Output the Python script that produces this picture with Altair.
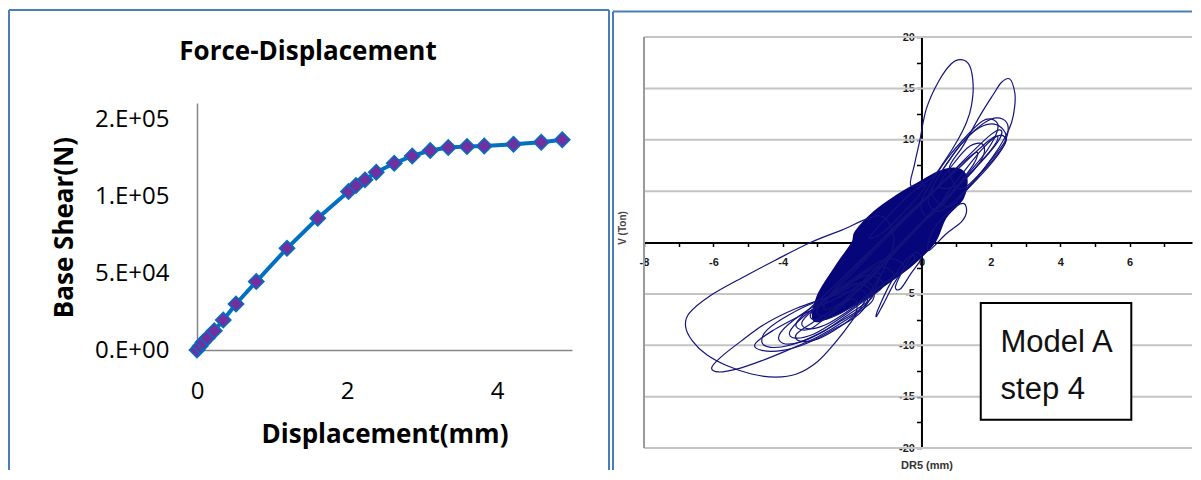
import altair as alt
import pandas as pd

# ---------------- left panel: pushover curve ----------------
disp_mm = [0.0, 0.04, 0.08, 0.14, 0.23, 0.35, 0.52, 0.79, 1.20, 1.61, 2.02, 2.12,
           2.24, 2.39, 2.63, 2.87, 3.11, 3.35, 3.60, 3.83, 4.22, 4.59, 4.87]
base_shear_n = [0, 2500, 5000, 8000, 12500, 19500, 30000, 44600, 66300, 85900, 103300,
                107200, 110900, 115900, 121700, 126500, 130000, 132000, 132600, 133000,
                134100, 135400, 137000]
y_tick_values = [0, 50000, 100000, 150000]
y_tick_labels = ["0.E+00", "5.E+04", "1.E+05", "2.E+05"]
x_tick_values = [0, 2, 4]

# ---------------- right panel: hysteresis loops (mm, Ton) ----------------
core_region = [(-3.1, -7.6), (-3.0, -5.2), (-2.45, -2.2), (-2.0, 0.0), (-1.9, 1.07), (-1.36, 3.0),
               (-0.7, 4.6), (-0.2, 5.6), (0.5, 6.9), (1.03, 7.2), (1.3, 6.3), (1.2, 4.3), (0.7, 2.4),
               (0.38, 0.0), (-0.27, -2.2), (-1.03, -4.1), (-1.58, -5.4), (-2.45, -7.0)]
loop_a = [(-1.2, 2.6), (-2.3, 1.2), (-3.2, 0.0), (-4.2, -1.7), (-5.1, -3.3), (-6.1, -5.2), (-6.7, -6.9),
          (-6.8, -8.2), (-6.6, -9.6), (-6.2, -10.9), (-5.6, -12.0), (-4.9, -12.8), (-4.2, -13.1),
          (-3.6, -12.8), (-3.0, -11.6), (-2.5, -9.8), (-2.0, -7.6), (-1.5, -5.0), (-1.0, -2.0), (-0.8, 0.5)]
loop_b = [(-1.6, -3.8), (-2.6, -5.2), (-3.6, -6.4), (-4.5, -7.9), (-5.2, -9.6), (-5.8, -11.2), (-6.05, -12.2),
          (-5.85, -12.6), (-5.3, -12.3), (-4.6, -11.5), (-3.8, -10.4), (-3.0, -9.2), (-2.2, -7.6), (-1.4, -5.6)]
loop_c = [(-1.8, -4.6), (-2.9, -5.6), (-3.8, -7.0), (-4.45, -8.5), (-4.6, -9.7), (-4.35, -10.2), (-3.8, -10.0),
          (-3.1, -9.1), (-2.4, -7.8), (-1.6, -6.0)]
loop_d = [(-1.9, -4.0), (-2.9, -5.8), (-3.7, -7.6), (-4.1, -9.0), (-4.0, -9.8), (-3.5, -9.7), (-2.8, -8.6),
          (-2.1, -7.0), (-1.4, -5.2)]
loop_e = [(-1.6, -3.2), (-2.6, -5.2), (-3.4, -7.2), (-3.8, -8.7), (-3.65, -9.3), (-3.1, -8.9), (-2.4, -7.5),
          (-1.7, -5.8), (-1.1, -4.2)]
loop_f = [(-1.3, -2.4), (-2.3, -4.5), (-3.1, -6.5), (-3.45, -7.8), (-3.25, -8.4), (-2.7, -7.9), (-2.0, -6.4),
          (-1.3, -4.6), (-0.8, -3.2)]
loop_g = [(-1.0, -1.6), (-2.0, -3.6), (-2.8, -5.6), (-3.2, -7.0), (-3.0, -7.6), (-2.4, -7.0), (-1.7, -5.5),
          (-1.0, -3.8), (-0.5, -2.4)]
loop_h = [(-0.3, 5.5), (-0.2, 7.6), (-0.05, 9.9), (0.14, 13.0), (0.48, 15.6), (0.86, 17.4), (1.15, 17.8),
          (1.39, 17.2), (1.49, 15.3), (1.44, 13.3), (1.3, 11.7), (1.05, 10.0), (0.7, 8.1), (0.3, 6.3)]
loop_i = [(0.8, 7.2), (1.2, 9.4), (1.68, 12.3), (2.07, 14.4), (2.31, 15.6), (2.55, 15.9), (2.69, 14.6),
          (2.69, 13.3), (2.6, 11.7), (2.42, 10.3), (2.05, 8.3), (1.6, 6.4), (1.1, 5.2)]
loop_j = [(0.3, 5.0), (0.9, 8.5), (1.5, 10.8), (2.0, 12.0), (2.35, 12.0), (2.5, 11.2), (2.4, 9.8),
          (2.0, 8.0), (1.4, 5.5), (0.8, 3.5)]
loop_k = [(0.0, 4.0), (0.6, 7.5), (1.2, 10.0), (1.75, 11.8), (2.1, 11.9), (2.2, 11.0), (1.9, 9.0),
          (1.3, 6.5), (0.7, 4.0), (0.2, 2.5)]
loop_l = [(0.2, 4.5), (0.8, 8.0), (1.4, 10.5), (1.9, 11.5), (2.3, 11.2), (2.45, 10.0), (2.2, 8.5),
          (1.7, 6.5), (1.1, 4.5), (0.5, 3.0)]
loop_m = [(0.5, 5.5), (1.0, 8.0), (1.4, 9.4), (1.75, 9.6), (1.8, 8.6), (1.5, 7.0), (1.0, 5.5)]
loop_n = [(0.2, -0.8), (0.7, 0.8), (1.15, 2.0), (1.3, 3.0), (1.2, 3.8), (0.8, 3.0), (0.3, 1.0)]
loop_o = [(-0.4, -1.5), (-0.9, -4.0), (-1.25, -6.5), (-1.3, -7.2), (-1.1, -6.0), (-0.7, -3.5), (-0.2, -1.6)]
loop_p = [(-0.2, -1.0), (-0.5, -2.5), (-0.75, -4.3), (-0.6, -4.5), (-0.3, -3.0), (0.0, -1.5)]
loop_q = [(-2.5, -4.5), (-1.5, -1.0), (-0.5, 2.5), (0.5, 5.5), (1.2, 7.8), (1.6, 8.8), (1.5, 7.6),
          (0.9, 5.0), (0.0, 1.8), (-1.0, -1.8), (-2.0, -5.2), (-2.8, -6.5)]
loop_r = [(-3.0, -6.5), (-2.0, -3.0), (-1.0, 0.5), (0.0, 3.8), (1.0, 7.0), (1.9, 9.8), (2.2, 10.3),
          (2.0, 9.0), (1.2, 6.0), (0.2, 2.5), (-0.8, -1.0), (-1.8, -4.5), (-2.6, -7.0)]
loop_s = [(-3.6, -7.8), (-2.6, -4.5), (-1.6, -1.2), (-0.6, 2.0), (0.4, 5.2), (1.4, 8.6), (2.0, 10.5),
          (2.3, 10.9), (2.2, 9.8), (1.6, 7.4), (0.6, 4.0), (-0.4, 0.6), (-1.4, -2.8), (-2.4, -6.2), (-3.2, -8.4)]
loop_t = [(-1.2, -3.0), (-2.2, -5.0), (-3.3, -6.8), (-4.3, -8.6), (-4.8, -9.9), (-4.6, -10.5), (-4.0, -10.5),
          (-3.3, -9.8), (-2.5, -8.4), (-1.7, -6.6)]
loop_u = [(-2.0, -5.5), (-3.0, -7.5), (-3.6, -8.9), (-3.5, -9.6), (-3.0, -9.4), (-2.4, -8.3), (-1.9, -6.9)]
loop_v = [(0.6, 4.0), (1.2, 6.8), (1.7, 8.9), (2.1, 10.2), (2.35, 10.4), (2.4, 9.6), (2.0, 7.8),
          (1.4, 5.6), (0.9, 3.6)]
loop_w = [(-1.5, 0.5), (-0.9, 2.8), (-0.3, 4.8), (0.1, 5.6), (0.0, 4.9), (-0.5, 3.0), (-1.1, 1.0)]
loops = {"a": loop_a, "b": loop_b, "c": loop_c, "d": loop_d, "e": loop_e, "f": loop_f, "g": loop_g,
         "h": loop_h, "i": loop_i, "j": loop_j, "k": loop_k, "l": loop_l, "m": loop_m, "n": loop_n,
         "o": loop_o, "p": loop_p, "q": loop_q, "r": loop_r, "s": loop_s, "t": loop_t, "u": loop_u,
         "v": loop_v, "w": loop_w}
grid_values = [-20, -15, -10, -5, 5, 10, 15, 20]
box_x = [1.71, 6.05]
box_y = [-5.9, -17.25]
box_lines = ["Model A", "step 4"]
box_text_x = [2.28, 2.28]
box_text_y = [-10.7, -15.2]

FRAME = "#4A7EBB"
one = pd.DataFrame({"k": [0]})

# ---------------- left chart ----------------
# plot top shared with the right panel (page y=37); the y axis itself spans 66..313 px
LW, LH = 375, 313
xs_l = alt.Scale(domain=[0, 5], nice=False, zero=False)
ys_l = alt.Scale(domain=[0, 161000], nice=False, range=[LH, 66])

label_expr = "''"
for v, lab in reversed(list(zip(y_tick_values, y_tick_labels))):
    label_expr = f"datum.value == {v} ? '{lab}' : ({label_expr})"

pdf = pd.DataFrame({"d": disp_mm, "v": base_shear_n, "i": list(range(len(disp_mm)))})
base = alt.Chart(pdf).encode(
    x=alt.X("d:Q", scale=xs_l, axis=alt.Axis(
        values=x_tick_values, title="Displacement(mm)", grid=False, ticks=False,
        domainColor="#868686", domainWidth=1.5, labelFont="Open Sans", labelFontSize=24,
        labelColor="black", labelPadding=29, labelFlush=False,
        titleFont="Open Sans", titleFontSize=26, titleFontWeight="bold", titleColor="black",
        titleX=LW / 2, titleY=92, titleAlign="center", titleBaseline="alphabetic", titleAngle=0)),
    y=alt.Y("v:Q", scale=ys_l, axis=alt.Axis(
        values=y_tick_values, labelExpr=label_expr, title="Base Shear(N)", grid=False, ticks=False,
        domainColor="#868686", domainWidth=1.5, labelFont="Open Sans", labelFontSize=24,
        labelColor="black", labelPadding=28, labelFlush=False,
        titleFont="Open Sans", titleFontSize=26, titleFontWeight="bold", titleColor="black",
        titleX=-125, titleY=190, titleAngle=270, titleAlign="center", titleBaseline="alphabetic")),
    order="i:Q",
)
curve = base.mark_line(color="#0070C0", strokeWidth=4)
markers = base.mark_point(shape="diamond", size=235, filled=True, fill="#7030A0",
                          stroke="#0070C0", strokeWidth=1.5, opacity=1)

fl_left = alt.Chart(one).mark_rule(color=FRAME, strokeWidth=2).encode(
    x=alt.value(-188), y=alt.value(-27), y2=alt.value(433))
fl_top = alt.Chart(one).mark_rule(color=FRAME, strokeWidth=2).encode(
    x=alt.value(-188), x2=alt.value(412), y=alt.value(-27))
fl_right = alt.Chart(one).mark_rule(color=FRAME, strokeWidth=2).encode(
    x=alt.value(412), y=alt.value(-27), y2=alt.value(433))
title_l = alt.Chart(pd.DataFrame({"t": ["Force-Displacement"]})).mark_text(
    font="Open Sans", fontSize=26, fontWeight="bold", color="black",
    align="center", baseline="alphabetic").encode(x=alt.value(111), y=alt.value(23), text="t:N")

left = alt.layer(fl_left, fl_top, fl_right, title_l, curve, markers).properties(width=LW, height=LH)

# ---------------- right chart ----------------
RW, RH = 548, 411
xs_r = alt.Scale(domain=[-8, 7.8], nice=False, zero=False)
ys_r = alt.Scale(domain=[-20, 20], nice=False, zero=False)
x_off = -(8 / 15.8) * RW

rows = []
for name, pts in loops.items():
    for j, (xv, yv) in enumerate(pts):
        rows.append({"loop": name, "i": j, "x": xv, "y": yv})
ldf = pd.DataFrame(rows)
cdf = pd.DataFrame({"x": [p[0] for p in core_region], "y": [p[1] for p in core_region],
                    "i": list(range(len(core_region)))})

x_axis_r = alt.Axis(values=list(range(-8, 8)),
                    labelExpr="datum.value % 2 == 0 ? '' + datum.value : ''",
                    offset=-RH / 2, tickSize=4, tickColor="black", tickWidth=1.5,
                    domainColor="black", domainWidth=2, labelFont="Liberation Sans",
                    labelFontSize=11, labelFontWeight="bold", labelColor="#1a1a1a",
                    labelPadding=10, grid=False,
                    title=None, labelFlush=False, labelOverlap=False)
y_axis_r = alt.Axis(values=[-20 + 2.5 * k for k in range(17)],
                    labelExpr="datum.value % 5 == 0 ? '' + datum.value : ''",
                    offset=x_off, tickSize=5, tickColor="black", tickWidth=1.5,
                    domainColor="black", domainWidth=2, labelFont="Liberation Sans",
                    labelFontSize=11, labelFontWeight="bold", labelColor="#1a1a1a",
                    labelPadding=2, grid=False,
                    title=None, labelFlush=False, labelOverlap=False)

X_R = alt.X("x:Q", scale=xs_r, axis=x_axis_r)
Y_R = alt.Y("y:Q", scale=ys_r, axis=y_axis_r)

grid_r = alt.Chart(pd.DataFrame({"y": grid_values})).mark_rule(color="#c4c4c4", strokeWidth=2).encode(y=Y_R)
frame_plot = alt.Chart(pd.DataFrame({"x": [-8]})).mark_rule(color="#9a9a9a", strokeWidth=2).encode(x=X_R)
core = alt.Chart(cdf).mark_line(interpolate="cardinal-closed", fill="#06067a", stroke="#06067a",
                                strokeWidth=1.5).encode(x=X_R, y=Y_R, order="i:Q")
loop_lines = alt.Chart(ldf).mark_line(interpolate="cardinal-closed", color="#14147e",
                                      strokeWidth=1.2).encode(x=X_R, y=Y_R, detail="loop:N", order="i:Q")
box = alt.Chart(pd.DataFrame({"x": [box_x[0]], "x2": [box_x[1]], "y": [box_y[0]], "y2": [box_y[1]]})).mark_rect(
    fill="white", stroke="black", strokeWidth=2).encode(x=X_R, x2="x2:Q", y=Y_R, y2="y2:Q")
box_text = alt.Chart(pd.DataFrame({"t": box_lines, "x": box_text_x, "y": box_text_y})).mark_text(
    font="Liberation Sans", fontSize=31, color="#111", align="left", baseline="alphabetic").encode(
    x=X_R, y=Y_R, text="t:N")

fr_left = alt.Chart(one).mark_rule(color=FRAME, strokeWidth=2).encode(
    x=alt.value(-31), y=alt.value(-25.5), y2=alt.value(433))
fr_top = alt.Chart(one).mark_rule(color=FRAME, strokeWidth=2).encode(
    x=alt.value(-31), x2=alt.value(RW), y=alt.value(-25.5))
v_title = alt.Chart(pd.DataFrame({"t": ["V (Ton)"]})).mark_text(
    font="Liberation Sans", fontSize=10, fontWeight="bold", color="#444", angle=270,
    align="center", baseline="middle").encode(x=alt.value(-21), y=alt.value(191), text="t:N")
dr_title = alt.Chart(pd.DataFrame({"t": ["DR5 (mm)"]})).mark_text(
    font="Liberation Sans", fontSize=11, fontWeight="bold", color="#333",
    align="center", baseline="alphabetic").encode(x=alt.value(283), y=alt.value(432), text="t:N")

right = alt.layer(grid_r, frame_plot, core, loop_lines, box, box_text,
                  fr_left, fr_top, v_title, dr_title).properties(width=RW, height=RH)

chart = alt.hconcat(left, right, spacing=2).properties(
    padding={"left": 0, "top": 1, "right": 0, "bottom": 0}
).configure_view(stroke=None)

chart.save("out.html", embed_options={"renderer": "svg", "actions": False})
